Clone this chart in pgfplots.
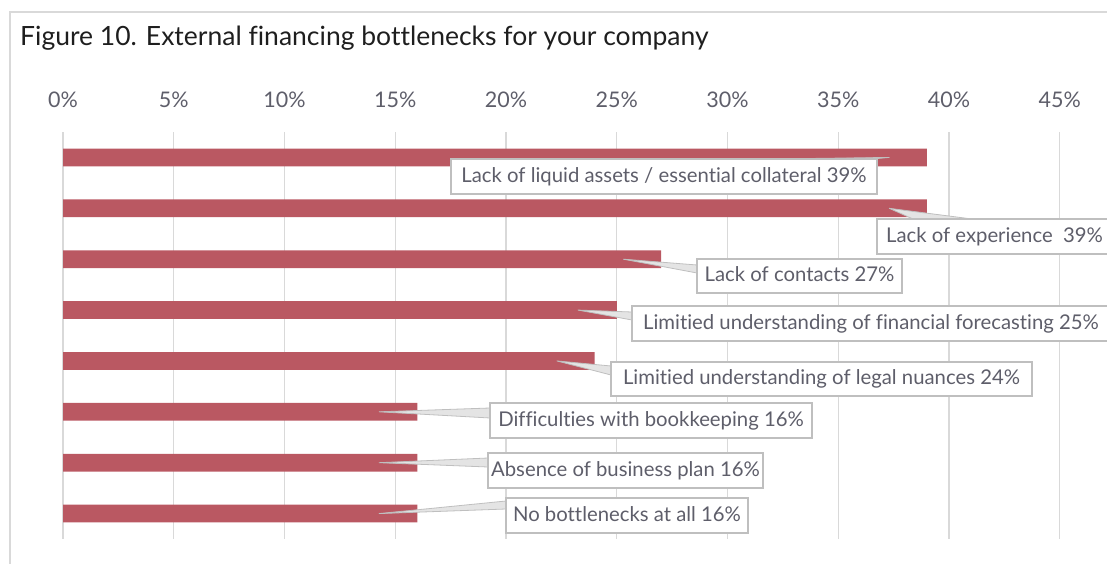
\documentclass[border=0pt]{standalone}
\usepackage{pgfplots}
\pgfplotsset{compat=1.18}
\usepackage{fontspec}
\setmainfont{Lato}[Ligatures={NoCommon}]
\definecolor{barred}{HTML}{BA5862}
\definecolor{gridgray}{HTML}{D9D9D9}
\definecolor{boxgray}{HTML}{BFBFBF}
\definecolor{txtgray}{HTML}{5E5E6A}
\definecolor{titleblk}{HTML}{1E1E1E}

\begin{document}
\begin{tikzpicture}
\path[use as bounding box] (0,0) rectangle (1107pt,563pt);
\clip (0,0) rectangle (1107pt,563pt);

\begin{axis}[
  at={(63pt,24pt)}, anchor=south west,
  scale only axis,
  width=1044pt, height=407pt,
  xbar, bar width=17.7pt,
  xmin=0, xmax=47.13,
  ymin=-0.5, ymax=7.5,
  y dir=reverse,
  axis line style={draw=none},
  ytick=\empty,
  xtick={0,5,...,45},
  xticklabel pos=top,
  xticklabel={\pgfmathprintnumber{\tick}\%},
  xticklabel style={anchor=center, yshift=32pt, font=\fontsize{21.5}{25}\selectfont, text=txtgray},
  /pgf/number format/assume math mode=true,
  major tick length=0pt,
  xmajorgrids=true,
  major grid style={gridgray, line width=1.3pt},
  clip=false,
]
\addplot[draw=none, fill=barred] coordinates {
  (39,0) (39,1) (27,2) (25,3) (24,4) (16,5) (16,6) (16,7)
};
\coordinate (p1) at (axis cs:37.3,0);
\coordinate (p2) at (axis cs:37.3,1);
\coordinate (p3) at (axis cs:25.3,2);
\coordinate (p4) at (axis cs:23.25,3);
\coordinate (p5) at (axis cs:22.3,4);
\coordinate (p6) at (axis cs:14.27,5);
\coordinate (p7) at (axis cs:14.27,6);
\coordinate (p8) at (axis cs:14.27,7);
\end{axis}

\begin{scope}[shift={(0pt,563pt)}, x=1pt, y=-1pt]
  % frame
  \draw[gridgray, line width=1.5pt] (10,570) -- (10,12) -- (1120,12);
  % title
  \node[anchor=base west, inner sep=0pt, text=titleblk, font=\fontsize{26.5}{31}\selectfont] at (20,46)
    {Figure 10. External financing bottlenecks for your company};
  % leader wedges
  \tikzset{wedge/.style={fill=gridgray!70, draw=boxgray, line width=0.8pt, line join=round}}
  \filldraw[wedge] (p1) -- (808,158.5) -- (877,158.5) -- cycle;
  \filldraw[wedge] (p2) -- (913,219) -- (972,219) -- cycle;
  \filldraw[wedge] (p3) -- (697,265) -- (697,273) -- cycle;
  \filldraw[wedge] (p4) -- (632,312) -- (632,320) -- cycle;
  \filldraw[wedge] (p5) -- (611,366) -- (611,375) -- cycle;
  \filldraw[wedge] (p6) -- (490,408) -- (490,418) -- cycle;
  \filldraw[wedge] (p7) -- (488,458) -- (488,467) -- cycle;
  \filldraw[wedge] (p8) -- (506,501) -- (506,509) -- cycle;
  % label boxes
  \tikzset{lbox/.style={draw=boxgray, fill=white, line width=1.3pt},
           ltxt/.style={text=txtgray, inner sep=0pt, font=\fontsize{20.3}{24}\selectfont}}
  \newcommand\lab[5]{%
    \draw[lbox] (#1,#2) rectangle (#3,#4);
    \node[ltxt] at ({(#1+#3)/2},{(#2+#4)/2+1}) {\strut #5};}
  \lab{451}{159}{877}{194}{Lack of liquid assets / essential collateral 39\%}
  \lab{877}{219}{1112}{254}{Lack of experience\ \ 39\%}
  \lab{697}{259}{902}{293}{Lack of contacts 27\%}
  \lab{632}{306}{1110}{341}{Limitied understanding of financial forecasting 25\%}
  \lab{611}{362}{1032}{396}{Limitied understanding of legal nuances 24\%}
  \lab{490}{403}{812}{438}{Difficulties with bookkeeping 16\%}
  \lab{488}{453}{763}{488}{Absence of business plan 16\%}
  \lab{506}{498}{748}{533}{No bottlenecks at all 16\%}
\end{scope}
\end{tikzpicture}
\end{document}
